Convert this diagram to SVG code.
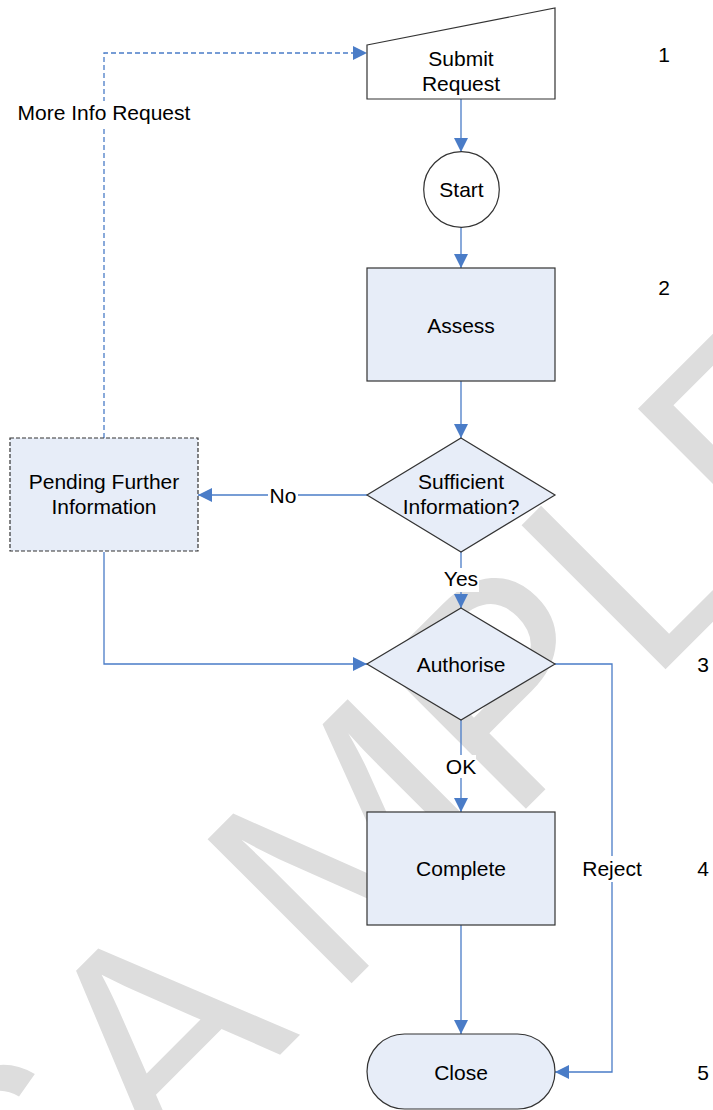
<svg xmlns="http://www.w3.org/2000/svg" width="713" height="1110" viewBox="0 0 713 1110">
<defs>
<style>
.t{font-family:"Liberation Sans",Arial,sans-serif;font-size:21px;fill:#000;text-anchor:middle}
.n{fill:#E7EDF8;stroke:#333;stroke-width:1.2}
.w{fill:#fff;stroke:#333;stroke-width:1.2}
.c{fill:none;stroke:#4A7CC7;stroke-width:1.3}
.lb{fill:#fff}
</style>
<marker id="ah" markerUnits="userSpaceOnUse" markerWidth="14" markerHeight="14" refX="13" refY="6.5" orient="auto" viewBox="0 0 13 13">
<path d="M0,0 L13,6.5 L0,13 Z" fill="#4A7CC7"/>
</marker>
</defs>
<rect width="713" height="1110" fill="#fff"/>
<g id="watermark">
<text transform="translate(55.2,1279.6) rotate(-45)" dx="-48 0 48" font-family="Liberation Sans,Arial,sans-serif" font-size="296" fill="#DDDDDD">SAMPLE</text>
</g>
<g id="connectors">
<line class="c" x1="461" y1="99" x2="461" y2="152" marker-end="url(#ah)"/>
<line class="c" x1="461" y1="227" x2="461" y2="268" marker-end="url(#ah)"/>
<line class="c" x1="461" y1="381" x2="461" y2="438" marker-end="url(#ah)"/>
<line class="c" x1="367" y1="495" x2="198" y2="495" marker-end="url(#ah)"/>
<line class="c" x1="461" y1="552" x2="461" y2="608" marker-end="url(#ah)"/>
<polyline class="c" points="104,552 104,664 367,664" marker-end="url(#ah)"/>
<line class="c" x1="461" y1="720" x2="461" y2="812" marker-end="url(#ah)"/>
<polyline class="c" points="555,664 612,664 612,1072 555,1072" marker-end="url(#ah)"/>
<line class="c" x1="461" y1="925" x2="461" y2="1034" marker-end="url(#ah)"/>
<polyline class="c" points="104,438 104,53 367,53" stroke-dasharray="5,3" marker-end="url(#ah)"/>
<g id="labels">
<rect class="lb" x="15" y="101" width="178" height="25"/>
<text class="t" x="104" y="120">More Info Request</text>
<rect class="lb" x="268" y="484" width="30" height="22"/>
<text class="t" x="283" y="502.5">No</text>
<rect class="lb" x="443" y="568" width="36" height="24"/>
<text class="t" x="461" y="585.5">Yes</text>
<rect class="lb" x="446" y="755" width="30" height="23"/>
<text class="t" x="461" y="773.5">OK</text>
<rect class="lb" x="582" y="856" width="60" height="26"/>
<text class="t" x="612" y="875.5">Reject</text>
</g>
</g>
<g id="submit">
<polygon class="w" points="367,45 555,8 555,99 367,99"/>
<text class="t" x="461" y="66">Submit</text>
<text class="t" x="461" y="91">Request</text>
</g>
<g id="start">
<circle class="w" cx="461.5" cy="189.5" r="37.8"/>
<text class="t" x="461.5" y="196.5">Start</text>
</g>
<g id="assess">
<rect class="n" x="367" y="268" width="188" height="113"/>
<text class="t" x="461" y="332.5">Assess</text>
</g>
<g id="sufficient">
<polygon class="n" points="461,438 555,495 461,552 367,495"/>
<text class="t" x="461" y="489">Sufficient</text>
<text class="t" x="461" y="514">Information?</text>
</g>
<g id="pending">
<rect class="n" x="10" y="438" width="188" height="113" stroke="#000" stroke-dasharray="4,2"/>
<text class="t" x="104" y="489">Pending Further</text>
<text class="t" x="104" y="514">Information</text>
</g>
<g id="authorise">
<polygon class="n" points="461,608 555,664 461,720 367,664"/>
<text class="t" x="461" y="671.5">Authorise</text>
</g>
<g id="complete">
<rect class="n" x="367" y="812" width="188" height="113"/>
<text class="t" x="461" y="875.5">Complete</text>
</g>
<g id="close">
<rect class="n" x="367" y="1034" width="188" height="75" rx="37.5" ry="37.5"/>
<text class="t" x="461" y="1079.5">Close</text>
</g>
<g id="steps">
<text class="t" x="664" y="61.5">1</text>
<text class="t" x="664" y="295">2</text>
<text class="t" x="703" y="671.5">3</text>
<text class="t" x="703" y="875.5">4</text>
<text class="t" x="703" y="1079.5">5</text>
</g>
</svg>
